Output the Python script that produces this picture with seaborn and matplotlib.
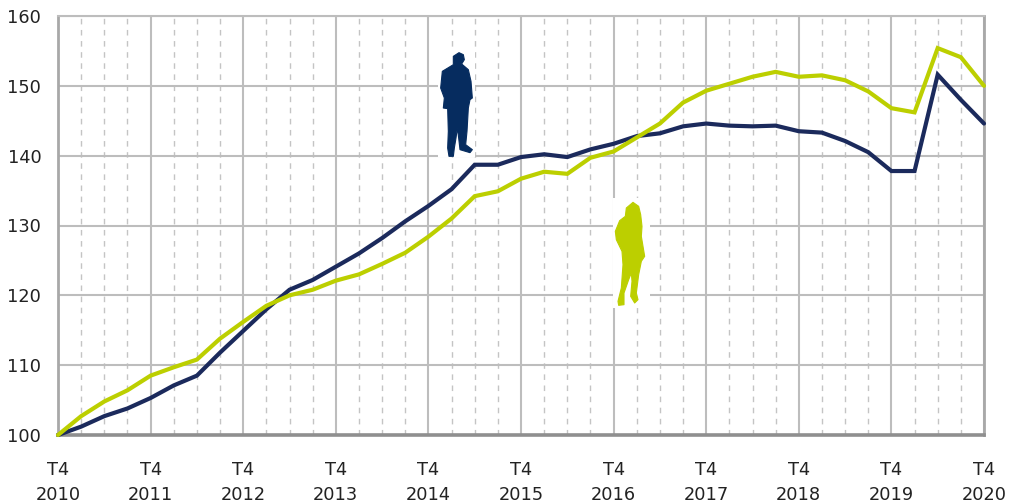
import numpy as np
import pandas as pd
import seaborn as sns
import matplotlib
matplotlib.use("Agg")
import matplotlib.pyplot as plt
from matplotlib.patches import Polygon, Rectangle

quarters = list(range(41))
hommes = [100,101.2,102.7,103.8,105.3,107.1,108.5,111.8,114.9,118,120.8,122.2,124.1,126,128.2,130.6,132.8,135.2,138.7,138.7,139.8,140.2,139.8,140.9,141.7,142.8,143.2,144.2,144.6,144.3,144.2,144.3,143.5,143.3,142.1,140.5,137.8,137.8,151.6,148,144.6]
femmes = [100,102.7,104.8,106.4,108.5,109.7,110.8,113.8,116.2,118.5,120,120.8,122.1,123,124.5,126.1,128.4,131,134.2,134.9,136.7,137.7,137.4,139.7,140.6,142.6,144.6,147.6,149.3,150.3,151.3,152,151.3,151.5,150.8,149.2,146.8,146.2,155.4,154.1,150]
years = [2010,2011,2012,2013,2014,2015,2016,2017,2018,2019,2020]
yticks = [100,110,120,130,140,150,160]

W, H = 1017, 503
NAVY, LIME, MAN = "#1b2a5c", "#bccf00", "#062c5f"
GRID, AXIS = "#bdbdbd", "#8f8f8f"

sns.set_theme(style="white")
plt.rcParams['font.family'] = ['DejaVu Sans']
fig = plt.figure(figsize=(W/100, H/100), dpi=100)
ax = fig.add_axes([58/W, 1-435/H, (984-58)/W, (435-16)/H])

df = pd.DataFrame({"q": quarters*2, "v": hommes+femmes,
                   "s": ["H"]*41+["F"]*41})
sns.lineplot(data=df, x="q", y="v", hue="s", palette={"H": NAVY, "F": LIME},
             hue_order=["H", "F"], linewidth=3.0, legend=False, ax=ax, zorder=5,
             clip_on=False, solid_joinstyle="miter")
ax.set_xlim(0, 40); ax.set_ylim(100, 160)
ax.set_xlabel(""); ax.set_ylabel("")

ax.set_yticks(yticks)
ax.set_xticks(quarters[::4])
ax.set_xticklabels([f"T4\n{y}" for y in years])
ax.set_xticks([q for q in quarters if q % 4], minor=True)
ax.grid(axis="y", color=GRID, lw=1.5, zorder=1)
ax.grid(axis="x", which="major", color=GRID, lw=1.5, zorder=1)
ax.grid(axis="x", which="minor", color="#c4c4c4", lw=1, ls=(0, (4, 4)), zorder=1)
ax.set_axisbelow(True)
ax.tick_params(axis="x", which="both", length=6, width=1.5, color=AXIS, pad=13,
               labelsize=12.8, labelcolor="#222222")
ax.tick_params(axis="y", length=7, width=1.5, color=GRID, pad=5, labelsize=12.8, labelcolor="#222222")
for lab in ax.get_xticklabels():
    lab.set_linespacing(1.45)
for s in ["top", "right"]:
    ax.spines[s].set_color(GRID); ax.spines[s].set_linewidth(1.5)
ax.spines["left"].set_color("#a8a8a8"); ax.spines["left"].set_linewidth(2)
ax.spines["right"].set_color("#a8a8a8"); ax.spines["right"].set_linewidth(2)
ax.spines["bottom"].set_color(AXIS); ax.spines["bottom"].set_linewidth(2.6)
ax.spines["bottom"].set_zorder(3)

def px(pts, ox, oy):
    return [((x/3+ox)/W, 1-(y/3+oy)/H) for x, y in pts]

man = [(72,14),(85,20),(88,35),(80,48),(100,65),(108,100),(112,150),(105,155),(100,180),(96,250),(92,290),(112,305),(105,314),(75,305),(71,270),(67,240),(63,270),(58,300),(55,325),(42,325),(38,300),(40,250),(38,182),(25,180),(28,150),(17,120),(22,70),(55,50),(55,25)]
woman = [(75,13),(92,25),(98,50),(102,85),(100,115),(110,175),(100,190),(92,230),(85,285),(90,305),(80,315),(68,295),(72,250),(70,225),(62,245),(48,285),(48,320),(32,322),(30,310),(40,270),(45,200),(42,160),(25,125),(22,100),(35,68),(52,55),(55,30)]

def box(x0, y0, x1, y1):
    ax.add_patch(Rectangle((x0/W, 1-y1/H), (x1-x0)/W, (y1-y0)/H, transform=fig.transFigure,
                           fc="white", ec="none", zorder=2, clip_on=False))
box(438, 50, 475, 157)
box(613, 198, 650, 308)
ax.add_patch(Polygon(px(man, 435, 48), closed=True, transform=fig.transFigure, fc=MAN, ec=MAN, lw=0.8, joinstyle="round", zorder=3, clip_on=False))
ax.add_patch(Polygon(px(woman, 608, 198), closed=True, transform=fig.transFigure, fc=LIME, ec=LIME, lw=0.8, joinstyle="round", zorder=3, clip_on=False))

fig.savefig("out.png", dpi=100)
